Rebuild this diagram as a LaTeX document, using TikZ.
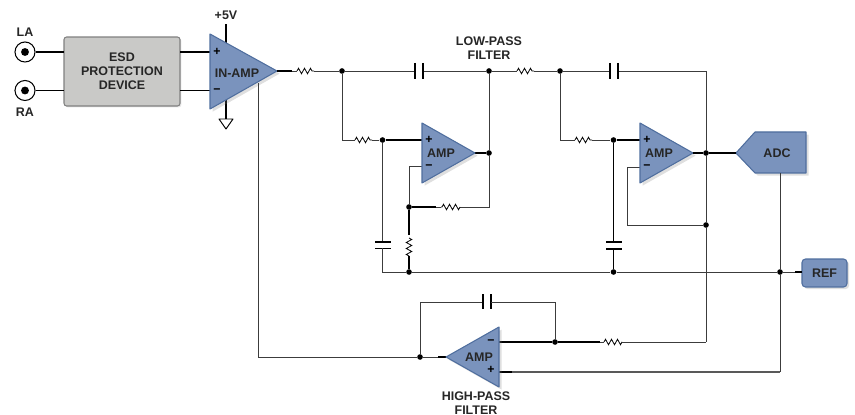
\documentclass[tikz,border=0pt]{standalone}
\usepackage{fontspec}
\setmainfont{Liberation Sans}
\usetikzlibrary{shadows,decorations.pathmorphing}
\definecolor{ampblue}{HTML}{7A93BD}
\definecolor{ampedge}{HTML}{4F6E9E}
\definecolor{esdgray}{HTML}{C9C9C7}
\definecolor{wiregray}{HTML}{3C3C3C}
\tikzset{
    wire/.style={line width=0.55pt,draw=wiregray},
    wirebold/.style={line width=1.05pt,draw=black},
    plate/.style={line width=1.05pt,draw=black},
    resistor/.style={line width=0.45pt,draw=black,decorate,decoration={zigzag,segment length=0.12cm,amplitude=0.055cm}},
    junction/.style={circle,fill=black,inner sep=0pt,minimum size=3.2pt},
    label/.style={font=\bfseries\fontsize{7.1}{8}\selectfont,text=black!85,align=center,inner sep=0pt},
    pinmark/.style={font=\bfseries\fontsize{7}{8}\selectfont,inner sep=0pt},
    blueshape/.style={fill=ampblue,draw=ampedge,line width=0.6pt,line join=round,drop shadow={shadow xshift=1.5pt,shadow yshift=-1.5pt,opacity=0.25}},
}
\begin{document}
\begin{tikzpicture}[x=0.02cm,y=-0.02cm]
    \useasboundingbox (0,0) rectangle (855,415);

    % input terminals
    \node[circle,draw=black,line width=0.6pt,fill=white,minimum size=11.4pt,inner sep=0pt] (la) at (25,52) {};
    \node[circle,draw=black,line width=0.6pt,fill=white,minimum size=11.4pt,inner sep=0pt] (ra) at (25,90.5) {};
    \node[junction,minimum size=4.5pt] at (la) {};
    \node[junction,minimum size=4.5pt] at (ra) {};
    \node[label] (lalabel) at (25,32) {LA};
    \node[label] (ralabel) at (25,112) {RA};

    % esd box
    \node[fill=esdgray,draw=black!50,line width=0.6pt,rounded corners=1.5pt,minimum width=2.32cm,minimum height=1.38cm,inner sep=0pt,label,drop shadow={shadow xshift=0.8pt,shadow yshift=-0.8pt,opacity=0.2}] (esd) at (122,71.5) {ESD\\PROTECTION\\DEVICE};

    % in-amp
    \coordinate (inplus) at (210,52);
    \coordinate (inminus) at (210,90.5);
    \coordinate (inout) at (277,71);
    \coordinate (insupply) at (226,44);
    \coordinate (inground) at (226,100);
    \coordinate (insense) at (258,83);
    \coordinate (gndtop) at (226,119);
    \draw[wirebold] (la) -- (64,52);
    \draw[wirebold] (ra) -- (64,90.5);
    \draw[wirebold] (180,52) -- (inplus);
    \draw[wirebold] (180,90.5) -- (inminus);
    \draw[wirebold] (insupply) -- (226,24);
    \draw[wirebold] (inground) -- (gndtop);
    \draw[line width=0.55pt,line join=round] (219,119) -- (233,119) -- (226,129) -- cycle;
    \draw[blueshape] (210,34) -- (210,109) -- (inout) -- cycle;
    \node[label] (supply) at (226,15) {+5V};
    \node[label] (inamp) at (237,73) {IN-AMP};
    \node[pinmark] at (217,52) {+};
    \node[pinmark] at (217,91) {\textminus};

    % junctions along the top
    \node[junction] (jtopa) at (342,71) {};
    \node[junction] (jtopb) at (489,71) {};
    \node[junction] (jtopc) at (560,71) {};
    \coordinate (topright) at (706,71);
    \node[label] (lowpass) at (489,48) {LOW-PASS\\FILTER};

    % top row: resistors and capacitors
    \coordinate (ra1) at (297,71);
    \coordinate (ra2) at (314,71);
    \coordinate (rb1) at (517,71);
    \coordinate (rb2) at (534,71);
    \coordinate (ca1) at (415,71);
    \coordinate (ca2) at (423,71);
    \coordinate (cb1) at (610,71);
    \coordinate (cb2) at (618,71);
    \draw[wirebold] (inout) -- (292,71);
    \draw[wire] (292,71) -- (ra1);
    \draw[resistor] (ra1) -- (ra2);
    \draw[wire] (ra2) -- (jtopa) -- (ca1);
    \draw[wire] (ca2) -- (jtopb) -- (rb1);
    \draw[resistor] (rb1) -- (rb2);
    \draw[wire] (rb2) -- (jtopc) -- (cb1);
    \draw[wire] (cb2) -- (topright);
    \draw[plate] (415,63) -- (415,79);
    \draw[plate] (423,63) -- (423,79);
    \draw[plate] (610,63) -- (610,79);
    \draw[plate] (618,63) -- (618,79);

    % first amp
    \node[junction] (jplusa) at (382.5,140) {};
    \node[junction] (jouta) at (489,153) {};
    \node[junction] (jfba) at (409,207) {};
    \node[junction] (jrefa) at (409,272) {};
    \coordinate (pluspina) at (422,140);
    \coordinate (minuspina) at (422,166.5);
    \coordinate (outpina) at (475,153);
    \draw[wire] (jtopa) -- (342,140) -- (355,140);
    \draw[resistor] (355,140) -- (372,140);
    \draw[wire] (372,140) -- (jplusa);
    \draw[wirebold] (jplusa) -- (pluspina);
    \draw[wire] (jplusa) -- (382.5,242);
    \draw[plate] (375,242) -- (391,242);
    \draw[plate] (375,248.5) -- (391,248.5);
    \draw[wire] (382.5,248.5) -- (382.5,272) -- (jrefa);
    \draw[wire] (jtopb) -- (jouta) -- (489,207) -- (460,207);
    \draw[resistor] (460,207) -- (441,207);
    \draw[wirebold] (436,207) -- (jfba);
    \draw[wire] (441,207) -- (436,207);
    \draw[wire] (minuspina) -- (409,166.5) -- (jfba);
    \draw[wirebold] (jfba) -- (409,235);
    \draw[resistor] (409,238) -- (409,256);
    \draw[wirebold] (409,256) -- (jrefa);
    \draw[wirebold] (outpina) -- (jouta);
    \draw[blueshape] (422,123) -- (422,183) -- (outpina) -- cycle;
    \node[label] (ampa) at (441,153) {AMP};
    \node[pinmark] at (429,140) {+};
    \node[pinmark] at (429,167) {\textminus};

    % second amp
    \node[junction] (jplusb) at (613.5,140) {};
    \node[junction] (joutb) at (706,153) {};
    \node[junction] (jfbb) at (706,225) {};
    \node[junction] (jrefb) at (613.5,272) {};
    \coordinate (pluspinb) at (640,140);
    \coordinate (minuspinb) at (640,167);
    \coordinate (outpinb) at (693,153);
    \draw[wire] (jtopc) -- (560,140) -- (575,140);
    \draw[resistor] (575,140) -- (592,140);
    \draw[wire] (592,140) -- (jplusb);
    \draw[wirebold] (jplusb) -- (pluspinb);
    \draw[wirebold] (jplusb) -- (613.5,242);
    \draw[plate] (606,242) -- (622,242);
    \draw[plate] (606,249) -- (622,249);
    \draw[wirebold] (613.5,249) -- (jrefb);
    \draw[wire] (minuspinb) -- (627,167) -- (627,225) -- (jfbb);
    \draw[blueshape] (640,123) -- (640,183) -- (outpinb) -- cycle;
    \node[label] (ampb) at (659,153) {AMP};
    \node[pinmark] at (647,140) {+};
    \node[pinmark] at (647,167) {\textminus};

    % adc and ref
    \coordinate (adctip) at (736,153);
    \draw[blueshape] (adctip) -- (755,132) -- (806,132) -- (806,173) -- (755,173) -- cycle;
    \node[label] (adc) at (777,153) {ADC};
    \node[fill=ampblue,draw=ampedge,line width=0.6pt,rounded corners=2pt,minimum width=0.9cm,minimum height=0.56cm,inner sep=0pt,label,drop shadow={shadow xshift=1.2pt,shadow yshift=-1.2pt,opacity=0.25}] (ref) at (824.5,273) {REF};
    \node[junction] (jrefc) at (780,272) {};
    \draw[wirebold] (outpinb) -- (joutb) -- (adctip);
    \draw[wire] (jrefa) -- (jrefb) -- (jrefc) -- (795,272);
    \draw[wirebold] (795,272) -- (802,272);
    \draw[wire] (topright) -- (joutb) -- (jfbb) -- (706,342);
    \draw[wire] (780,173) -- (jrefc) -- (780,372);

    % high-pass section
    \node[junction] (jleft) at (420,357) {};
    \node[junction] (jfbc) at (555,342) {};
    \coordinate (pluspinc) at (499,372);
    \coordinate (minuspinc) at (499,342);
    \coordinate (inpinc) at (446,357);
    \draw[wire] (insense) -- (258,357) -- (jleft) -- (438,357);
    \draw[wirebold] (438,357) -- (inpinc);
    \draw[wire] (jleft) -- (420,302) -- (483,302);
    \draw[plate] (483,294) -- (483,309);
    \draw[plate] (491,294) -- (491,309);
    \draw[wire] (491,302) -- (555,302) -- (jfbc);
    \draw[wirebold] (minuspinc) -- (jfbc) -- (600,342);
    \draw[resistor] (604,342) -- (622,342);
    \draw[wire] (600,342) -- (604,342);
    \draw[wire] (622,342) -- (706,342);
    \draw[wirebold] (pluspinc) -- (512,372);
    \draw[line width=0.75pt,draw=black!65] (512,372) -- (780,372);
    \draw[blueshape] (inpinc) -- (499,327) -- (499,387) -- cycle;
    \node[label] (ampc) at (479,357) {AMP};
    \node[pinmark] at (491,342) {\textminus};
    \node[pinmark] at (491,370) {+};
    \node[label] (highpass) at (476,403.5) {HIGH-PASS\\FILTER};
\end{tikzpicture}
\end{document}
